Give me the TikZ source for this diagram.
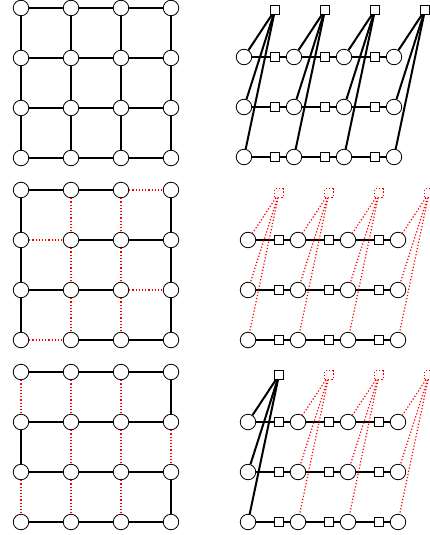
\documentclass[tikz,border=0pt]{standalone}
\usepackage{tikz}
\tikzset{
  vertice/.style={draw, circle, fill=white, minimum size=15.5pt, inner sep=0pt, line width=0.8pt},
  fator/.style={draw, rectangle, fill=white, minimum size=8.5pt, inner sep=0pt, line width=1.3pt},
  fcorte/.style={fator, draw=red, dotted, line width=1.1pt},
  aresta/.style={line width=2pt},
  corte/.style={red, dotted, line width=1.2pt},
}
\begin{document}
\begin{tikzpicture}[x=1pt, y=-1pt]
  \useasboundingbox (0,0) rectangle (430,535);
  \foreach \g/\y in {a/8, b/190, c/372}
    \foreach \i in {0,...,3}
      \foreach \j in {0,...,3}
        \node[vertice] (\g\i\j) at ({21+50*\i}, {\y+50*\j}) {};
  \foreach \i/\k in {0/1,1/2,2/3}
    \foreach \j in {0,...,3} {
      \draw[aresta] (a\i\j) -- (a\k\j);
      \draw[aresta] (a\j\i) -- (a\j\k);
      \draw[aresta] (c\i\j) -- (c\k\j);
    }
  \foreach \u/\v in {b00/b10,b10/b20,b11/b21,b21/b31,b02/b12,b12/b22,b13/b23,b23/b33,b00/b01,b01/b02,b02/b03,b30/b31,b31/b32,b32/b33,c01/c02,c30/c31,c32/c33}
    \draw[aresta] (\u) -- (\v);
  \foreach \u/\v in {b20/b30,b01/b11,b22/b32,b03/b13,b10/b11,b11/b12,b12/b13,b20/b21,b21/b22,b22/b23,c00/c01,c02/c03,c10/c11,c11/c12,c12/c13,c20/c21,c21/c22,c22/c23,c31/c32}
    \draw[corte] (\u) -- (\v);
  \foreach \g/\x/\y in {d/244/57, e/248/240, f/248/422} {
    \foreach \k in {0,...,3}
      \foreach \r in {1,2,3}
        \node[vertice] (\g\k\r) at ({\x+50*\k}, {\y+50*(\r-1)}) {};
    \foreach \k/\l in {0/1,1/2,2/3}
      \foreach \r in {1,2,3} {
        \node[fator] (\g q\k\r) at ({\x+31+50*\k}, {\y+50*(\r-1)}) {};
        \draw[aresta] (\g\k\r) -- (\g q\k\r) -- (\g\l\r);
      }
  }
  \foreach \g/\k/\estilo/\linha in {d/0/fator/aresta,d/1/fator/aresta,d/2/fator/aresta,d/3/fator/aresta,e/0/fcorte/corte,e/1/fcorte/corte,e/2/fcorte/corte,e/3/fcorte/corte,f/0/fator/aresta,f/1/fcorte/corte,f/2/fcorte/corte,f/3/fcorte/corte} {
    \node[\estilo] (\g t\k) at ([shift={(31,-47)}]\g\k1) {};
    \foreach \r in {1,2,3}
      \draw[\linha] (\g t\k) -- (\g\k\r);
  }
\end{tikzpicture}
\end{document}
